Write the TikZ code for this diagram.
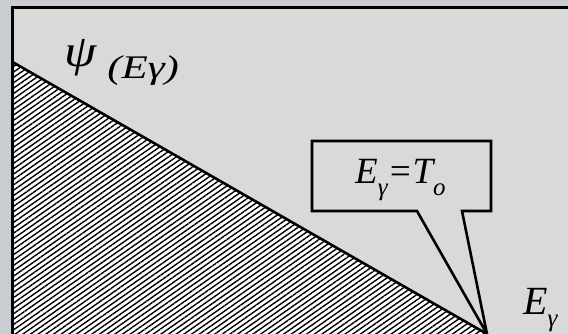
\documentclass[tikz,border=0pt]{standalone}
\usepackage{fontspec}
\setmainfont{Liberation Serif}
\usetikzlibrary{patterns.meta}
\definecolor{pagebg}{HTML}{C9CDD2}
\definecolor{panelgrey}{HTML}{D9D9D9}
\newcommand{\lowered}[1]{\raisebox{-0.3em}{\fontsize{25}{25}\selectfont #1}}

\begin{document}
\begin{tikzpicture}[
    x=1pt, y=-1pt,
    outline/.style={line width=2.6pt},
    hatch/.style={pattern={Lines[angle=35,distance=4.4pt,line width=1.4pt]},
                  pattern color=black},
    sym/.style={inner sep=0pt, anchor=base west},
    wide/.style={sym, xscale=1.3}
]
\useasboundingbox (0,0) rectangle (568,334);

% background and panel
\fill[pagebg] (0,0) rectangle (568,334);
\fill[panelgrey] (12.5,7.5) rectangle (568,334);

% hatched region under the line
\coordinate (top) at (12.5,62);
\coordinate (tip) at (487,334);
\coordinate (corner) at (12.5,334);
\fill[white] (top) -- (tip) -- (corner) -- cycle;
\fill[hatch] (top) -- (tip) -- (corner) -- cycle;
\draw[outline] (top) -- (tip);

% frame
\draw[line width=3pt] (corner) -- (12.5,7.5) -- (568,7.5);

% callout
\draw[outline, fill=panelgrey, line join=miter]
    (312,141) -- (491,141) -- (491,211) -- (462,211) -- (tip)
    -- (417,211) -- (312,211) -- cycle;

% texts
\node[sym, xscale=1.15, font=\itshape\fontsize{45}{45}\selectfont] (psi) at (64,67) {ψ};
\node[wide, font=\itshape\fontsize{33}{33}\selectfont] (arg) at (107,79) {(Eγ)};
\node[sym, font=\itshape\fontsize{37}{37}\selectfont] (cond) at (355,184)
    {E\lowered{γ}=T\lowered{o}};
\node[sym, font=\itshape\fontsize{40}{40}\selectfont] (axis) at (523,314)
    {E\lowered{γ}};
\end{tikzpicture}
\end{document}
